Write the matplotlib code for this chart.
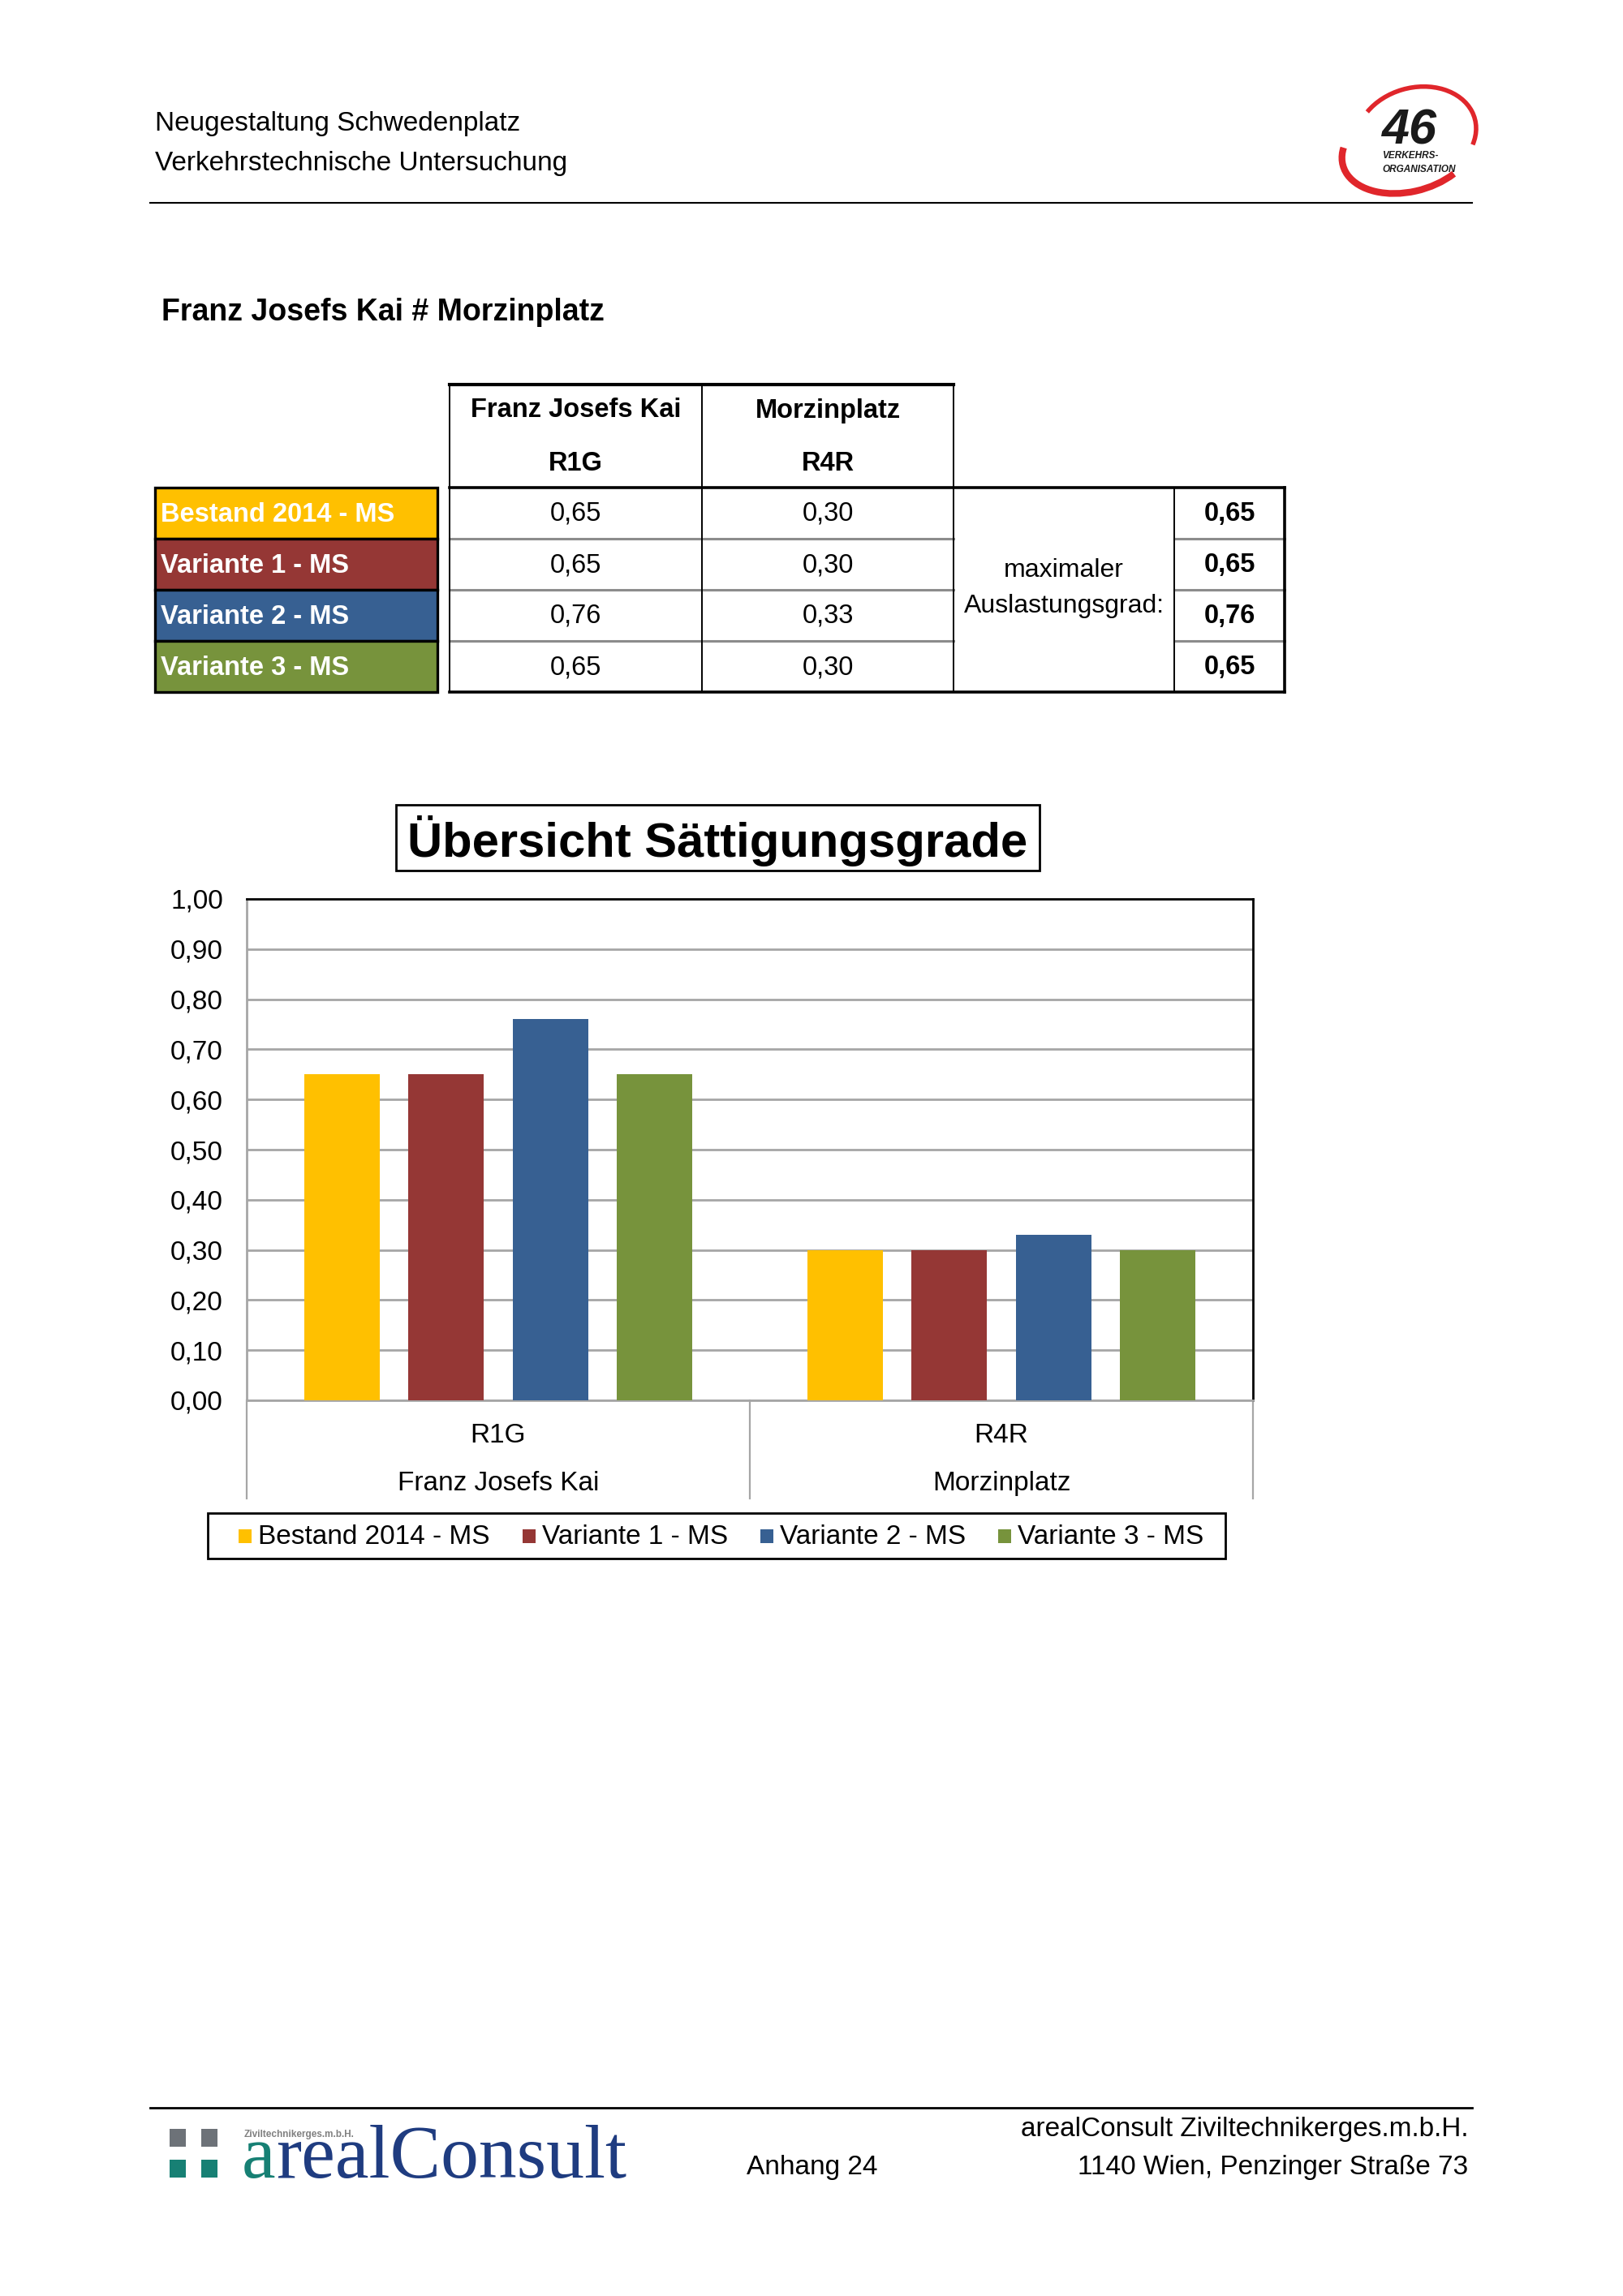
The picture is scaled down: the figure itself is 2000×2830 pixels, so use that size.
import matplotlib
matplotlib.use('Agg')
import matplotlib.pyplot as plt
from matplotlib.patches import Rectangle, Arc
import matplotlib.transforms as mtrans
import numpy as np

plt.rcParams['font.family'] = ['Liberation Sans', 'DejaVu Sans']

# ---------------- data ----------------
page_header = ["Neugestaltung Schwedenplatz", "Verkehrstechnische Untersuchung"]
page_title = "Franz Josefs Kai # Morzinplatz"
chart_title = "Übersicht Sättigungsgrade"
streets = ["Franz Josefs Kai", "Morzinplatz"]
categories = ["R1G", "R4R"]
series_names = ["Bestand 2014 - MS", "Variante 1 - MS", "Variante 2 - MS", "Variante 3 - MS"]
series_colors = ["#FFC000", "#953735", "#376092", "#77933C"]
r1g_values = [0.65, 0.65, 0.76, 0.65]
r4r_values = [0.30, 0.30, 0.33, 0.30]
max_values = [0.65, 0.65, 0.76, 0.65]
max_label = ["maximaler", "Auslastungsgrad:"]
y_ticks = [0.0, 0.1, 0.2, 0.3, 0.4, 0.5, 0.6, 0.7, 0.8, 0.9, 1.0]
footer_company = ["arealConsult Ziviltechnikerges.m.b.H.", "1140 Wien, Penzinger Straße 73"]
footer_page = "Anhang 24"


def fmt(v):
    return f"{v:.2f}".replace('.', ',')


W, H = 2000, 2830
fig = plt.figure(figsize=(20, 28.3), dpi=100)
fig.patch.set_facecolor('white')
bg = fig.add_axes([0, 0, 1, 1])
bg.set_xlim(0, W)
bg.set_ylim(H, 0)
bg.axis('off')
inv = bg.transData.inverted()

# ---------------- page header ----------------
bg.text(191, 161, page_header[0], fontsize=24, va='baseline', ha='left')
bg.text(191, 210, page_header[1], fontsize=24, va='baseline', ha='left')
bg.plot([185, 1814], [250, 250], color='black', lw=1.5)

# 46 logo
bg.add_patch(Arc((1745, 166), 150, 116, angle=-15, theta1=220, theta2=25,
                 color='#E0262B', lw=4))
bg.add_patch(Arc((1736, 182), 168, 108, angle=-15, theta1=45, theta2=195,
                 color='#E0262B', lw=6))
bg.text(1736, 178, "46", fontsize=44, weight='heavy', style='italic',
        ha='center', va='baseline', color='#1A1A1A')
bg.text(1703, 195, "VERKEHRS-", fontsize=8.5, weight='bold', style='italic',
        ha='left', va='baseline', color='#1A1A1A')
bg.text(1703, 212, "ORGANISATION", fontsize=8.5, weight='bold', style='italic',
        ha='left', va='baseline', color='#1A1A1A')

# page title
bg.text(199, 395, page_title, fontsize=27, weight='bold', va='baseline', ha='left')

# ---------------- table ----------------
row_top = 601
row_h = 63
n_rows = len(series_names)
tab_bottom = row_top + row_h * n_rows
col_x = [554, 865, 1175, 1447, 1583]
col_c1 = (col_x[0] + col_x[1]) / 2
col_c2 = (col_x[1] + col_x[2]) / 2
col_c3 = (col_x[2] + col_x[3]) / 2
col_c4 = (col_x[3] + col_x[4]) / 2

# row label cells
for i, (name, col) in enumerate(zip(series_names, series_colors)):
    y0 = row_top + i * row_h
    bg.add_patch(Rectangle((191, y0), 348, row_h, facecolor=col,
                           edgecolor='black', lw=2.4, zorder=2))
    bg.text(198, y0 + 42, name, color='white', fontsize=23.5, weight='bold',
            va='baseline', ha='left', zorder=3)

# header box
bg.plot([col_x[0], col_x[2]], [474, 474], color='black', lw=3)
for xv in col_x[:3]:
    bg.plot([xv, xv], [474, row_top], color='black', lw=1.4)
for j, (st, cat) in enumerate(zip(streets, categories)):
    cx = [col_c1, col_c2][j]
    bg.text(cx, 514.5, st, fontsize=23.5, weight='bold', ha='center', va='baseline')
    bg.text(cx, 579.5, cat, fontsize=23.5, weight='bold', ha='center', va='baseline')

# inner gray lines
for i in range(1, n_rows):
    yv = row_top + i * row_h
    bg.plot([col_x[0], col_x[2]], [yv, yv], color='#8C8C8C', lw=2.2)
    bg.plot([col_x[3], col_x[4]], [yv, yv], color='#8C8C8C', lw=2.2)

# data borders
bg.plot([col_x[0], col_x[4]], [row_top, row_top], color='black', lw=2.6)
bg.plot([col_x[0], col_x[4]], [tab_bottom, tab_bottom], color='black', lw=2.6)
for xv in col_x[:4]:
    bg.plot([xv, xv], [row_top, tab_bottom], color='black', lw=1.4)
bg.plot([col_x[4], col_x[4]], [row_top, tab_bottom], color='black', lw=2.6)

for i in range(n_rows):
    yb = row_top + i * row_h + 41
    bg.text(col_c1, yb, fmt(r1g_values[i]), fontsize=23.5, ha='center', va='baseline')
    bg.text(col_c2, yb, fmt(r4r_values[i]), fontsize=23.5, ha='center', va='baseline')
    bg.text(col_c4, yb, fmt(max_values[i]), fontsize=23.5, weight='bold',
            ha='center', va='baseline')
bg.text(col_c3, 711, max_label[0], fontsize=23, ha='center', va='baseline')
bg.text(col_c3, 755, max_label[1], fontsize=23, ha='center', va='baseline')

# ---------------- chart ----------------
bg.add_patch(Rectangle((488, 992), 793, 81, fill=False, edgecolor='black', lw=2))
bg.text(884.5, 1056, chart_title, fontsize=43, weight='bold', ha='center', va='baseline')

ax_l, ax_r, ax_t, ax_b = 304, 1544, 1108, 1726
ax = fig.add_axes([ax_l / W, 1 - ax_b / H, (ax_r - ax_l) / W, (ax_b - ax_t) / H])
ax.set_facecolor('white')
ax.set_xlim(-0.5, len(categories) - 0.5)
ax.set_ylim(0, 1)

x = np.arange(len(categories))
pitch = 0.207
bw = 0.150
for i, (name, col) in enumerate(zip(series_names, series_colors)):
    vals = [r1g_values[i], r4r_values[i]]
    ax.bar(x + (i - (len(series_names) - 1) / 2) * pitch, vals, width=bw,
           color=col, zorder=3, label=name)

ax.set_yticks(y_ticks)
ax.set_yticklabels([fmt(v) for v in y_ticks])
ax.tick_params(axis='y', length=0, pad=21, labelsize=24)
ax.set_xticks([])
grid_gray = '#A6A6A6'
ax.yaxis.grid(True, color=grid_gray, lw=2)
ax.set_axisbelow(True)
ax.spines['left'].set_color(grid_gray)
ax.spines['left'].set_linewidth(2)
ax.spines['bottom'].set_color(grid_gray)
ax.spines['bottom'].set_linewidth(2)
ax.spines['top'].set_color('black')
ax.spines['top'].set_linewidth(2)
ax.spines['right'].set_color('black')
ax.spines['right'].set_linewidth(2)

trans = mtrans.blended_transform_factory(ax.transData, ax.transAxes)
axis_h = ax_b - ax_t
sep_depth = (1847 - ax_b) / axis_h
for xv in np.arange(len(categories) + 1) - 0.5:
    ax.plot([xv, xv], [0, -sep_depth], transform=trans, color=grid_gray, lw=1.6,
            clip_on=False)
for i, (cat, st) in enumerate(zip(categories, streets)):
    ax.text(i, -(1778 - ax_b) / axis_h, cat, transform=trans, ha='center',
            va='baseline', fontsize=24)
    ax.text(i, -(1837 - ax_b) / axis_h, st, transform=trans, ha='center',
            va='baseline', fontsize=24)

# legend (manual, Excel style)
bg.add_patch(Rectangle((256, 1865), 1254, 56, fill=False, edgecolor='black', lw=2))
fig.canvas.draw()
renderer = fig.canvas.get_renderer()
xc = 294
for name, col in zip(series_names, series_colors):
    bg.add_patch(Rectangle((xc, 1885), 16, 17, facecolor=col, edgecolor='none'))
    t = bg.text(xc + 24.5, 1903, name, fontsize=24, ha='left', va='baseline')
    ext = t.get_window_extent(renderer=renderer)
    x1 = inv.transform((ext.x1, ext.y0))[0]
    xc = x1 + 39.5

# ---------------- footer ----------------
bg.plot([185, 1814], [2598, 2598], color='black', lw=2)
for sx in (209, 248):
    bg.add_patch(Rectangle((sx, 2624), 20, 22, facecolor='#6D7278', edgecolor='none'))
    bg.add_patch(Rectangle((sx, 2662), 20, 22, facecolor='#178074', edgecolor='none'))
bg.text(301, 2634, "Ziviltechnikerges.m.b.H.", fontsize=8.5, weight='bold',
        color='#808080', ha='left', va='baseline')
ta = bg.text(298, 2684, "a", fontsize=67.5, family='Liberation Serif', color='#178074',
             ha='left', va='baseline')
fig.canvas.draw()
ext = ta.get_window_extent(renderer=fig.canvas.get_renderer())
xa = inv.transform((ext.x1, ext.y0))[0]
bg.text(xa + 1, 2684, "realConsult", fontsize=67.5, family='Liberation Serif',
        color='#1F3C80', ha='left', va='baseline')

bg.text(1809, 2633, footer_company[0], fontsize=24, ha='right', va='baseline')
bg.text(1809, 2680, footer_company[1], fontsize=24, ha='right', va='baseline')
bg.text(920, 2680, footer_page, fontsize=24, ha='left', va='baseline')

fig.savefig('out.png', dpi=100, facecolor='white')
